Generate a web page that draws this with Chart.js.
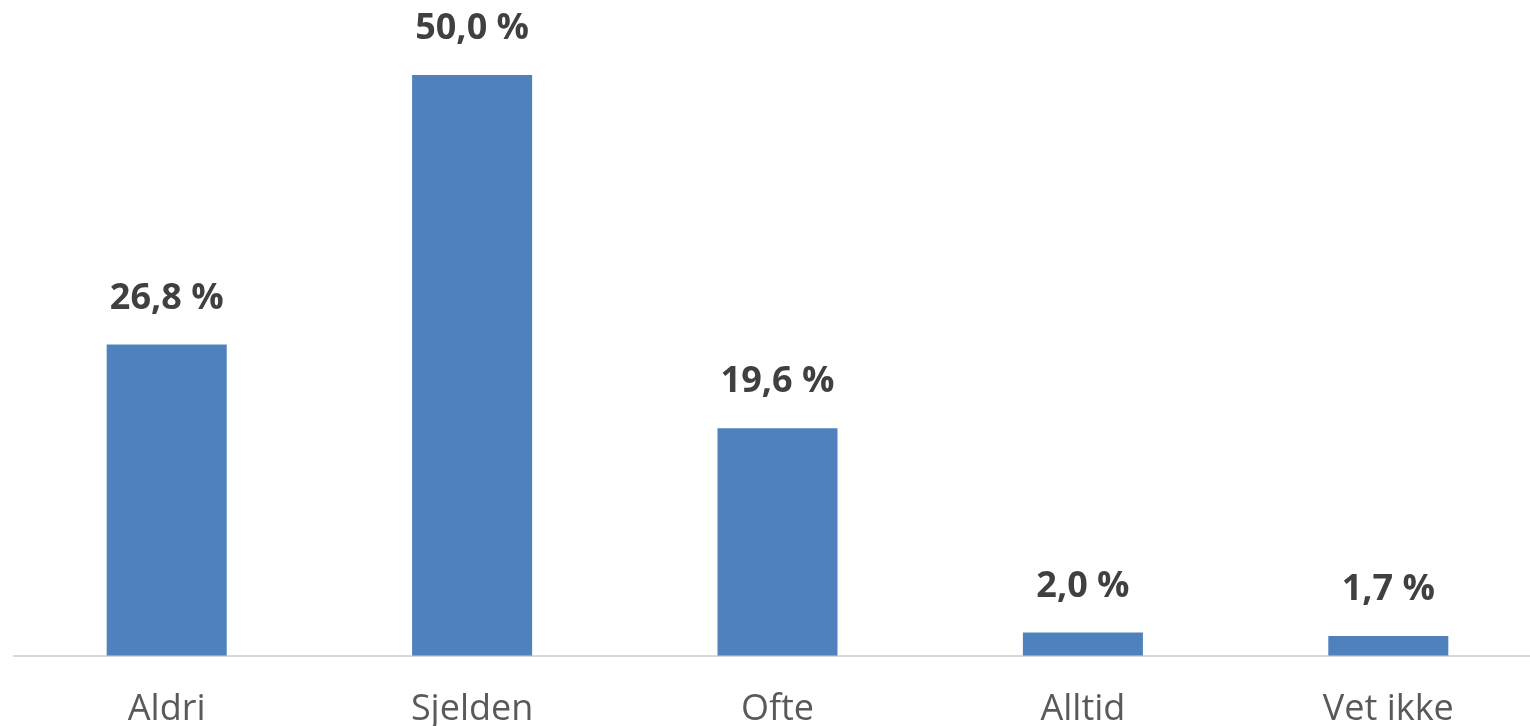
<!DOCTYPE html>
<html>
<head>
<meta charset="utf-8">
<script src="https://cdn.jsdelivr.net/npm/chart.js@4/dist/chart.umd.min.js"></script>
<style>
  html, body { margin: 0; padding: 0; background: #fff; overflow: hidden; }
  #wrap { position: relative; width: 1541px; height: 763px; }
</style>
</head>
<body>
<div id="wrap"><canvas id="c"></canvas></div>
<script>
// Answer categories and share of respondents (%)
const categories = ['Aldri', 'Sjelden', 'Ofte', 'Alltid', 'Vet ikke'];
const shares = [26.8, 50.0, 19.6, 2.0, 1.7];

const barColor = '#4F81BD';
const valueColor = '#404040';
const labelColor = '#595959';
const fontFamily = '"Open Sans", "Noto Sans", sans-serif';

function formatPct(v) {
  return v.toFixed(1).replace('.', ',') + ' %';
}

// Draws the percentage above each bar
const valueLabels = {
  id: 'valueLabels',
  afterDatasetsDraw(chart) {
    const ctx = chart.ctx;
    const meta = chart.getDatasetMeta(0);
    ctx.save();
    ctx.font = 'bold 36px ' + fontFamily;
    ctx.fillStyle = valueColor;
    ctx.textAlign = 'center';
    ctx.textBaseline = 'middle';
    meta.data.forEach((bar, i) => {
      ctx.fillText(formatPct(chart.data.datasets[0].data[i]), bar.x, bar.y - 46);
    });
    ctx.restore();
  }
};

new Chart(document.getElementById('c'), {
  type: 'bar',
  data: {
    labels: categories,
    datasets: [{
      data: shares,
      backgroundColor: barColor,
      borderWidth: 0,
      barPercentage: 0.393,
      categoryPercentage: 1.0
    }]
  },
  options: {
    responsive: true,
    maintainAspectRatio: false,
    animation: false,
    layout: { padding: { top: 17, left: 14, right: 0, bottom: 0 } },
    plugins: { legend: { display: false }, tooltip: { enabled: false } },
    scales: {
      x: {
        grid: { display: false, drawTicks: false },
        border: { display: true, color: '#D9D9D9', width: 2 },
        ticks: {
          color: labelColor,
          font: { family: fontFamily, size: 36 },
          padding: 32
        }
      },
      y: {
        display: false,
        min: 0,
        max: 55
      }
    }
  },
  plugins: [valueLabels]
});
</script>
</body>
</html>
